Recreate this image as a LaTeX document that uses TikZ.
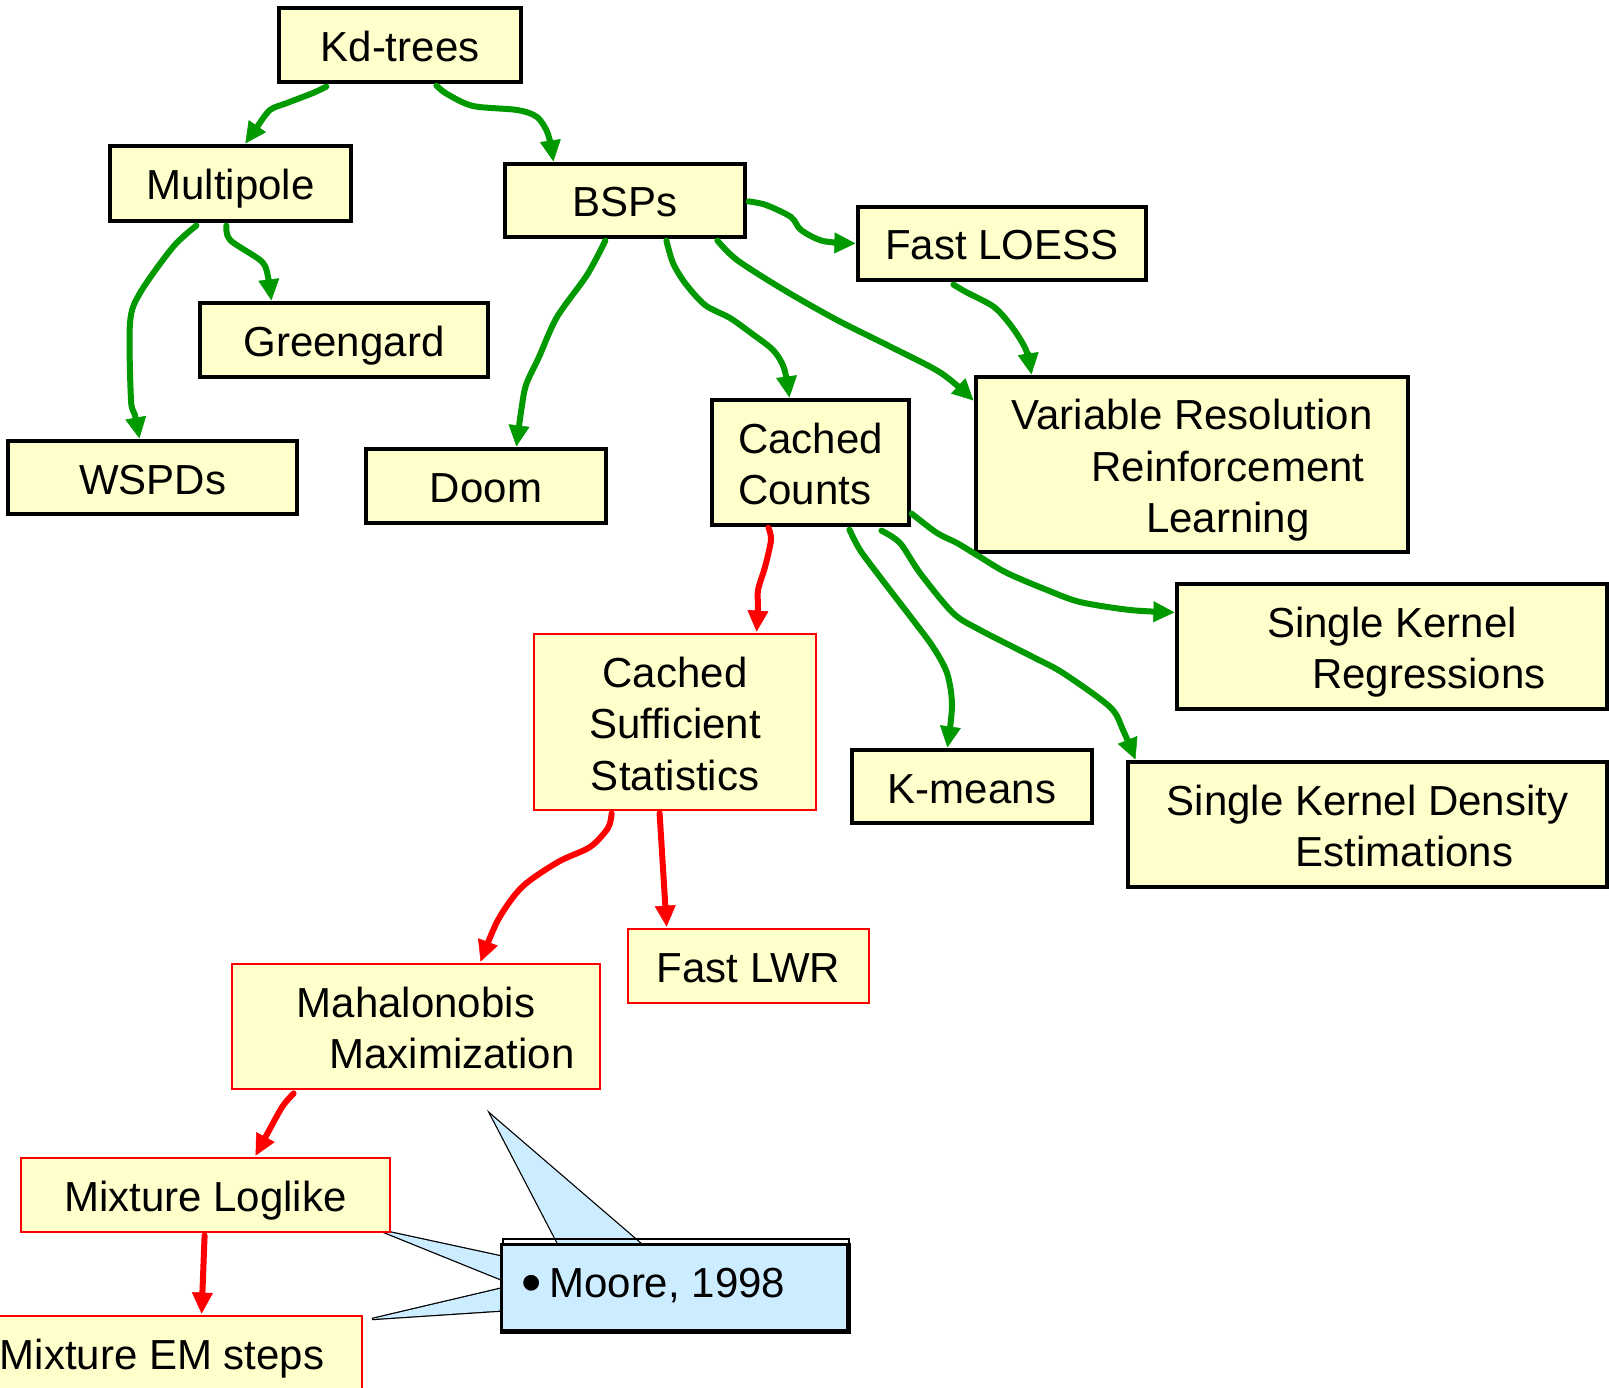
\documentclass[tikz,border=0pt]{standalone}
\usepackage{fontspec}
\setmainfont{Liberation Sans}
\usetikzlibrary{arrows.meta,calc}
\pgfdeclarelayer{paper}
\pgfdeclarelayer{under}
\pgfsetlayers{paper,under,main}
\definecolor{boxfill}{HTML}{FFFFCC}
\definecolor{linkgreen}{HTML}{009900}
\definecolor{linkred}{HTML}{FF0000}
\definecolor{notefill}{HTML}{CCECFF}

\begin{document}
\begin{tikzpicture}[x=1pt,y=-1pt,
  box/.style={draw=black, line width=3.2pt, fill=boxfill, inner sep=0pt,
    align=center, font=\fontsize{42}{51.5}\selectfont},
  redbox/.style={box, draw=linkred, line width=2.8pt},
  oneline/.style={text height=40pt, text depth=7pt},
  twolines/.style={text height=91.5pt, text depth=7pt},
  threelines/.style={text height=143pt, text depth=7pt},
  glink/.style={draw=linkgreen, line width=6pt, line cap=round, line join=round,
    -{Triangle[length=21pt,width=21pt,line width=0.5pt]}},
  rlink/.style={glink, draw=linkred},
  pointer/.style={fill=notefill, draw=black, line width=2.5pt, line join=miter},
]
\useasboundingbox (0,0) rectangle (1609,1388);
\begin{pgfonlayer}{paper}
  \fill[white] (0,0) rectangle (1609,1388);
\end{pgfonlayer}
\clip (0,0) rectangle (1609,1388);

% ---------- boxes ----------
\node[box, oneline, minimum width=242pt, minimum height=74pt] (kd) at (400,45) {Kd-trees};
\node[box, oneline, minimum width=241pt, minimum height=75pt] (mp) at (230.5,183.5) {Multipole};
\node[box, oneline, minimum width=240pt, minimum height=73pt] (bsp) at (625,200.5) {BSPs};
\node[box, oneline, minimum width=288pt, minimum height=73pt] (loess) at (1002,243.5) {Fast LOESS};
\node[box, oneline, minimum width=288pt, minimum height=74pt] (green) at (344,340) {Greengard};
\node[box, oneline, minimum width=289pt, minimum height=73pt] (wspd) at (152.5,477.5) {WSPDs};
\node[box, oneline, minimum width=240pt, minimum height=74pt] (doom) at (486,486) {Doom};
\node[box, twolines, align=left, minimum width=197pt, minimum height=125pt] (cc) at (810.5,462.5) {Cached\\Counts};
\node[box, threelines, minimum width=432pt, minimum height=175pt] (vrrl) at (1192,464.5)
  {Variable Resolution\\\hspace*{72pt}Reinforcement\\\hspace*{72pt}Learning};
\node[box, twolines, minimum width=430pt, minimum height=125pt] (skr) at (1392,646.5)
  {Single Kernel\\\hspace*{74pt}Regressions};
\node[box, twolines, minimum width=479pt, minimum height=125pt] (skde) at (1367.5,824.5)
  {Single Kernel Density\\\hspace*{74pt}Estimations};
\node[box, oneline, minimum width=240pt, minimum height=73pt] (km) at (972,786.5) {K-means};

\node[redbox, threelines, minimum width=282pt, minimum height=176pt] (css) at (675,722)
  {Cached\\Sufficient\\Statistics};
\node[redbox, oneline, minimum width=241pt, minimum height=74pt] (lwr) at (748.5,966) {Fast LWR};
\node[redbox, twolines, minimum width=368pt, minimum height=125pt] (mm) at (416,1026.5)
  {Mahalonobis\\\hspace*{72pt}Maximization};
\node[redbox, oneline, minimum width=369pt, minimum height=74pt] (ml) at (205.5,1195) {Mixture Loglike};
\node[redbox, oneline, minimum width=400pt, minimum height=74pt] (em) at (162,1353) {Mixture EM steps};

% ---------- green links ----------
\coordinate (s1) at ($(kd.south west)+(49,3)$);
\coordinate (e1) at ($(mp.north west)+(137,-1)$);
\draw[glink] plot[smooth] coordinates {(s1) (313,93) (287,103) (270,110) (257,127) (e1)};

\coordinate (s2) at ($(kd.south west)+(159,2)$);
\coordinate (e2) at ($(bsp.north west)+(50,-1)$);
\draw[glink] plot[smooth] coordinates {(s2) (447,94) (473,106) (517,110) (537,117) (548,134) (e2)};

\coordinate (s3) at ($(mp.south west)+(88,3)$);
\coordinate (e3) at ($(wspd.north west)+(133,-1)$);
\draw[glink] plot[smooth] coordinates {(s3) (173,247) (140,293) (130,323) (131,400) (135,415) (e3)};

\coordinate (s4) at ($(mp.south west)+(118,3)$);
\coordinate (e4) at ($(green.north west)+(73,-1)$);
\draw[glink] plot[smooth] coordinates {(s4) (230,240) (260,260) (267,272) (e4)};

\coordinate (s5) at ($(bsp.south west)+(102,2)$);
\coordinate (e5) at ($(doom.north west)+(152,-1)$);
\draw[glink] plot[smooth] coordinates {(s5) (587,275) (557,317) (539,357) (526,385) (521,412) (e5)};

\coordinate (s6) at ($(bsp.south west)+(163,2)$);
\coordinate (e6) at ($(cc.north west)+(79,-1)$);
\draw[glink] plot[smooth] coordinates {(s6) (673,263) (685,283) (705,305) (730,318) (751,333) (773,350) (784,368) (e6)};

\coordinate (s7) at ($(bsp.south west)+(214,2)$);
\coordinate (e7) at ($(vrrl.north west)+(-1,25)$);
\draw[glink] plot[smooth] coordinates {(s7) (737,260) (784,290) (837,320) (891,347) (941,373) (e7)};

\coordinate (s8) at ($(bsp.north east)+(2,39)$);
\coordinate (e8) at ($(loess.north west)+(-1,38)$);
\draw[glink] plot[smooth] coordinates {(s8) (766,205) (791,217) (801,230) (823,241) (e8)};

\coordinate (s9) at ($(loess.south west)+(97,3)$);
\coordinate (e9) at ($(vrrl.north west)+(57,-1)$);
\draw[glink] plot[smooth] coordinates {(s9) (966,292) (994,307) (1012,327) (1026,350) (e9)};

\coordinate (s11) at ($(cc.south west)+(139,3)$);
\coordinate (e11) at ($(km.north west)+(97,-1)$);
\draw[glink] plot[smooth] coordinates {(s11) (860,550) (880,577) (913,620) (933,647) (947,673) (952,705) (e11)};

\coordinate (s12) at ($(cc.south west)+(171,4)$);
\coordinate (e12) at ($(skde.north west)+(9,-1)$);
\draw[glink] plot[smooth] coordinates {(s12) (900,543) (920,573) (953,613) (980,630) (1033,657) (1063,673) (1110,707) (1123,730) (e12)};

\coordinate (s13) at ($(cc.south east)+(1,-13)$);
\coordinate (e13) at ($(skr.north west)+(-1,30)$);
\draw[glink] plot[smooth] coordinates {(s13) (937,533) (957,543) (980,557) (1007,573) (1047,590) (1080,602) (1130,610) (e13)};

% ---------- red links ----------
\coordinate (s10) at ($(cc.south west)+(58,1)$);
\coordinate (e10) at ($(css.north west)+(224,-1)$);
\draw[rlink] plot[smooth] coordinates {(s10) (771,540) (765,567) (758,590) (758,607) (e10)};

\coordinate (s14) at ($(css.south west)+(79,2)$);
\coordinate (e14) at ($(mm.north west)+(250,-1)$);
\draw[rlink] plot[smooth] coordinates {(s14) (608,828) (590,847) (558,862) (522,887) (498,920) (e14)};

\coordinate (s15) at ($(css.south west)+(127,2)$);
\coordinate (e15) at ($(lwr.north west)+(40,-1)$);
\draw[rlink] (s15) -- (e15);

\coordinate (s16) at ($(mm.south west)+(63,3)$);
\coordinate (e16) at ($(ml.north west)+(236,-1)$);
\draw[rlink] plot[smooth] coordinates {(s16) (285,1103) (278,1114) (e16)};

\coordinate (s17) at ($(ml.south west)+(185,2)$);
\coordinate (e17) at ($(em.north west)+(241,-1)$);
\draw[rlink] (s17) -- (e17);

% ---------- callout ----------
\node[fill=notefill, draw=black, line width=3pt, inner sep=0pt,
  minimum width=346pt, minimum height=86pt,
  text height=40pt, text depth=20pt, font=\fontsize{42}{51.5}\selectfont] (note) at (674,1287)
  {\makebox[306pt][l]{{\fontsize{58}{58}\selectfont\raisebox{-5pt}{\textbullet}}\hspace{8pt}Moore, 1998}};
\coordinate (tipA) at (491,1115);
\coordinate (tipB) at (379,1230);
\coordinate (tipC) at (372,1319);
\begin{pgfonlayer}{under}
  \draw[pointer] ($(note.north west)+(59,2)$) -- (tipA) -- ($(note.north west)+(142,2)$);
  \draw[pointer] ($(note.north west)+(2,14)$) -- (tipB) -- ($(note.north west)+(2,37)$);
  \draw[pointer] ($(note.north west)+(2,46)$) -- (tipC) -- ($(note.north west)+(2,68)$);
  \fill[notefill] ($(note.north west)+(59,2)$) -- (tipA) -- ($(note.north west)+(142,2)$) -- cycle;
  \fill[notefill] ($(note.north west)+(2,14)$) -- (tipB) -- ($(note.north west)+(2,37)$) -- cycle;
  \fill[notefill] ($(note.north west)+(2,46)$) -- (tipC) -- ($(note.north west)+(2,68)$) -- cycle;
\end{pgfonlayer}
\draw[line width=2pt] ($(note.north west)+(3,0)$) -- ++(0,-4) -- ($(note.north east)+(0,-4)$) -- (note.north east);
\draw[line width=4.5pt] (note.south west) -- (note.south east) -- (note.north east);
\end{tikzpicture}
\end{document}
